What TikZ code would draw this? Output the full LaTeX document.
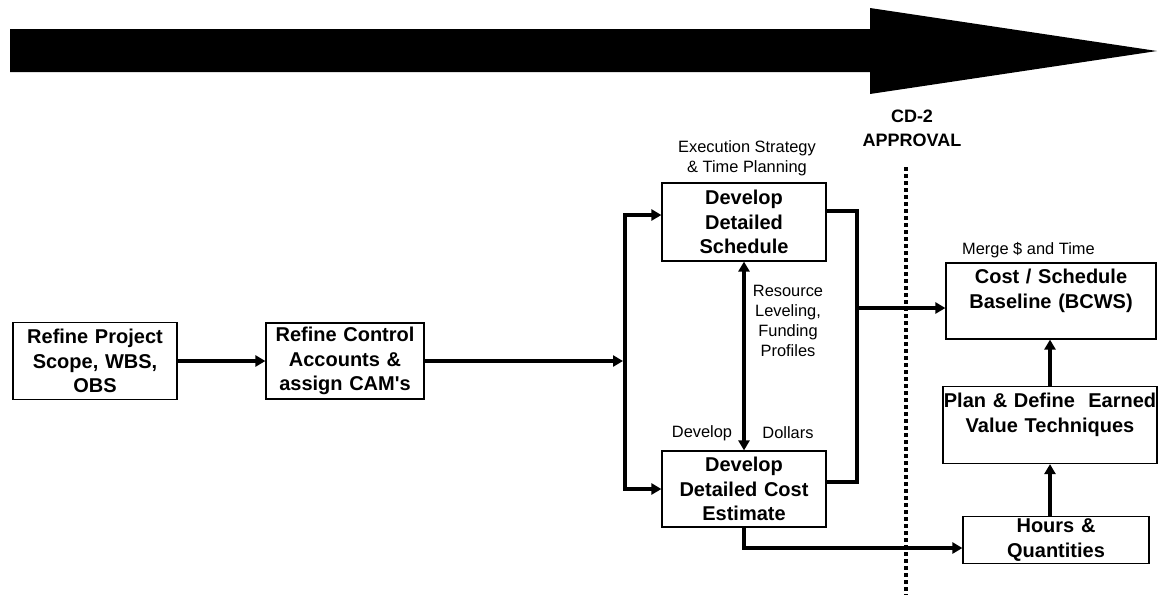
\documentclass[tikz,border=0pt]{standalone}
\usepackage{fontspec}
\setmainfont{Liberation Sans}
\usetikzlibrary{arrows.meta,positioning}

\newcommand{\boxfont}{\fontsize{20}{24.5}\selectfont\bfseries}
\newcommand{\notefont}{\fontsize{16.4}{20}\selectfont}

\tikzset{
  box/.style={draw, line width=1.2pt, align=center, inner sep=0pt, font=\boxfont},
  note/.style={align=center, inner sep=0pt, font=\notefont},
  flow/.style={line width=4pt, -{Triangle[length=10pt,width=11pt]}},
  both/.style={line width=4pt, {Triangle[length=10pt,width=11pt]}-{Triangle[length=10pt,width=11pt]}},
  link/.style={line width=4pt},
}

\begin{document}
\begin{tikzpicture}[x=1pt, y=-1pt]
    \useasboundingbox (0,0) rectangle (1158,595);

    % big arrow along the top
    \fill (10,29) -- (870,29) -- (870,8) -- (1157,51) -- (870,94) -- (870,72) -- (10,72) -- cycle;

    % milestone
    \node[font=\fontsize{18}{24}\selectfont\bfseries, align=center, inner sep=0pt] (cd) at (912,128) {CD-2\\APPROVAL};
    \draw[line width=3.5pt, dash pattern=on 4pt off 3pt] (906,167) -- (906,595);

    % the boxes
    \node[box, text width=164pt, minimum height=77pt] (scope) at (95,361) {Refine Project\\Scope, WBS,\\OBS};
    \node[box, text width=158pt, minimum height=76pt] (ctrl) at (345,361) {Refine Control\\Accounts \&\\assign CAM\textquotesingle s};
    \node[box, text width=164pt, minimum height=78pt] (sched) at (744,222) {Develop\\Detailed\\Schedule};
    \node[box, text width=164pt, minimum height=76pt] (cost) at (744,489) {Develop\\Detailed Cost\\Estimate};
    \node[box, text width=210pt, minimum height=76pt] (base) at (1051,301) {Cost / Schedule\\Baseline (BCWS)\\~};
    \node[box, text width=214pt, minimum height=77pt] (plan) at (1050,425) {Plan \& Define~ Earned\\Value Techniques\\~};
    \node[box, text width=186pt, minimum height=47pt] (hours) at (1056,540) {Hours \&\\Quantities};

    % side notes
    \node[note] (exec) at (747,158) {Execution Strategy\\\& Time Planning};
    \node[note] (res) at (788,321) {Resource\\Leveling,\\Funding\\Profiles};
    \node[note] (dev) at (702,433) {Develop};
    \node[note] (dol) at (788,433) {Dollars};
    \node[note, anchor=west] (merge) at (962,250) {Merge \$ and Time};

    % junctions
    \coordinate (jn) at (625,361);
    \coordinate (mg) at (857,308);

    % connectors
    \draw[flow] (scope.east) -- (ctrl.west);
    \draw[flow, shorten >=2pt] (ctrl.east) -- (jn);
    \draw[flow] (jn) |- ([yshift=7pt]sched.west);
    \draw[flow] (jn) |- (cost.west);
    \draw[both] (sched.south) -- (cost.north);
    \draw[link] ([yshift=11pt]sched.east) -| (mg) |- ([yshift=7pt]cost.east);
    \draw[flow] (mg) -- (mg -| base.west);
    \draw[flow] (cost.south) |- ([yshift=-8pt]hours.west);
    \draw[flow] (plan.south |- hours.north) -- (plan.south);
    \draw[flow] (plan.north) -- (plan.north |- base.south);

\end{tikzpicture}
\end{document}
